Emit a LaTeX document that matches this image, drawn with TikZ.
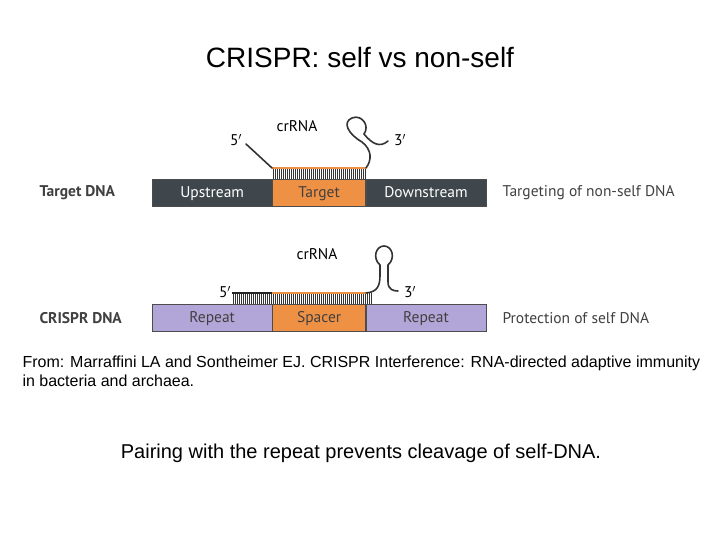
\documentclass[tikz,border=0pt]{standalone}
\usepackage{fontspec}
\setmainfont{Liberation Sans}
\newfontfamily\figfont{PT Sans}
\usetikzlibrary{positioning}
\definecolor{slate}{HTML}{3F474D}
\definecolor{spacer}{HTML}{EF9145}
\definecolor{repeatc}{HTML}{B2A6D8}
\tikzset{
  seg/.style={draw=black!70,minimum height=27pt,inner sep=0pt,text height=11pt,text depth=3pt,font=\figfont\fontsize{15.5}{15.5}\selectfont},
  lbl/.style={font=\figfont\fontsize{15.5}{15.5}\selectfont,text=black!75,anchor=west},
  rna/.style={line width=1.6pt,black!80,line cap=round},
  end/.style={font=\figfont\fontsize{15.5}{15.5}\selectfont},
}
\begin{document}
\begin{tikzpicture}[x=1pt,y=-1pt]
\useasboundingbox (0,0) rectangle (720,540);

% Title
\node (title) at (360,57) {\fontsize{28}{28}\selectfont CRISPR: self vs non-self};

% Target DNA bar
\node[seg,fill=slate,text=white,minimum width=120pt,anchor=west] (up) at (152,193) {Upstream};
\node[seg,fill=spacer,text=black!75,minimum width=93pt,right=0pt of up] (tgt) {Target};
\node[seg,fill=slate,text=white,minimum width=120pt,right=0pt of tgt] (down) {Downstream};
\node[lbl,font=\figfont\bfseries\fontsize{15.5}{15.5}\selectfont] (tdna) at (36,193) {Target DNA};
\node[lbl] (nonself) at (499,193) {Targeting of non-self DNA};

% crRNA on target
\foreach \x in {273,275,...,365} \draw[black!80,line width=0.5pt] (\x,168) -- (\x,179);
\draw[spacer,line width=2pt] (272,168) -- (366,168);
\draw[rna] (272,168) -- (246,144);
\draw[rna] (366,168) .. controls (372,160) and (372,150) .. (362,142)
  .. controls (348,134) and (342,122) .. (352,118)
  .. controls (362,114) and (370,126) .. (364,134)
  .. controls (372,144) and (380,148) .. (388,141);
\node[end] (c5a) at (236,140) {5$'$};
\node[end] (c3a) at (400,140) {3$'$};
\node[end] (crA) at (297,126) {crRNA};

% CRISPR DNA bar
\node[seg,fill=repeatc,text=black!75,minimum width=120pt,anchor=west] (rep1) at (152,318) {Repeat};
\node[seg,fill=spacer,text=black!75,minimum width=93pt,right=0pt of rep1] (spc) {Spacer};
\node[seg,fill=repeatc,text=black!75,minimum width=120pt,right=0pt of spc] (rep2) {Repeat};
\node[lbl,font=\figfont\bfseries\fontsize{15.5}{15.5}\selectfont] (cdna) at (36,318) {CRISPR DNA};
\node[lbl] (self) at (499,318) {Protection of self DNA};

% crRNA on repeat
\foreach \x in {233,235,...,371} \draw[black!80,line width=0.5pt] (\x,293) -- (\x,304);
\draw[black!85,line width=2.2pt] (232,293) -- (272,293);
\draw[spacer,line width=2pt] (272,293) -- (366,293);
\draw[rna] (366,293) .. controls (378,292) and (380,285) .. (380,275)
  -- (380,265) .. controls (372,258) and (376,246) .. (384,246)
  .. controls (392,246) and (396,258) .. (388,265)
  -- (388,282) .. controls (388,290) and (394,291) .. (398,291);
\node[end] (c5b) at (225,292) {5$'$};
\node[end] (c3b) at (410,292) {3$'$};
\node[end] (crB) at (317,254) {crRNA};

% Source and caption
\node[anchor=north west,align=left,font=\fontsize{16}{19}\selectfont] (src) at (19,352)
  {From: Marraffini LA and Sontheimer EJ. CRISPR Interference: RNA-directed adaptive immunity\\in bacteria and archaea.};
\node (cap) at (361,453) {\fontsize{20}{20}\selectfont Pairing with the repeat prevents cleavage of self-DNA.};
\end{tikzpicture}
\end{document}
